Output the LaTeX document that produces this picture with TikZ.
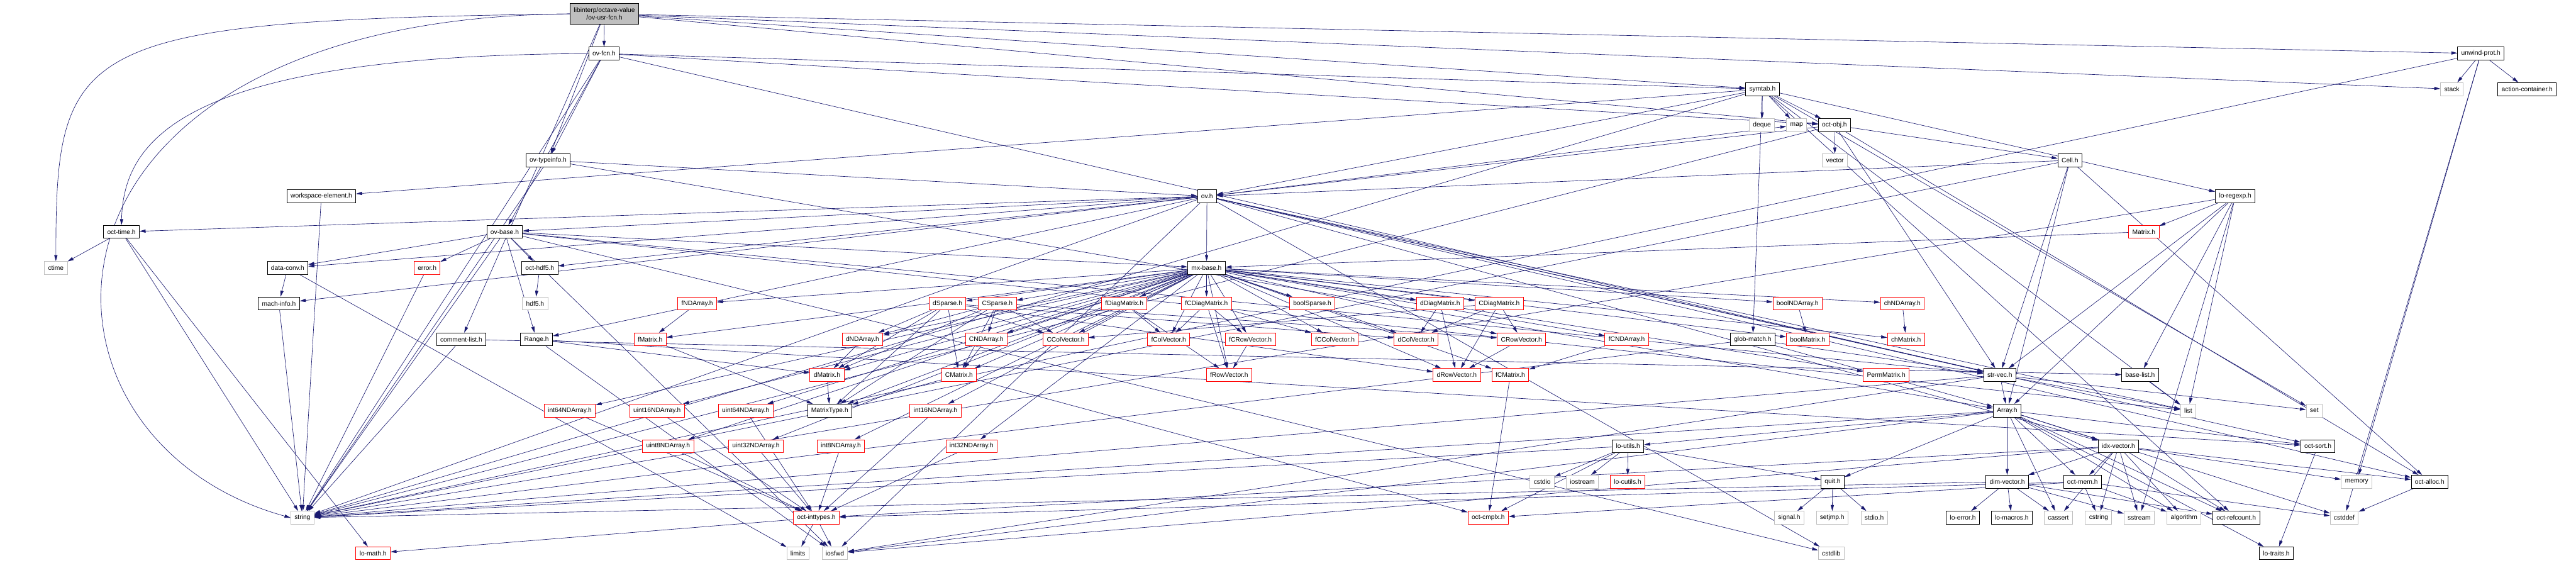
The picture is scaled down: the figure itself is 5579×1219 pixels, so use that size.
\documentclass[tikz,border=0pt]{standalone}
\usepackage{fontspec}
\setmainfont{Liberation Sans}
\usetikzlibrary{arrows.meta,backgrounds}
\definecolor{edgeblue}{HTML}{191970}
\definecolor{sysgray}{HTML}{BFBFBF}
\definecolor{rootgray}{HTML}{BFBFBF}
\definecolor{trunc}{HTML}{FF0000}
\newcommand{\nodefont}{\fontsize{14}{16}\selectfont}
\newcommand{\deps}[2]{\foreach \tg in {#2} {\draw[dep] (#1) -- (\tg);}}
\tikzset{
  nd/.style={rectangle, draw=black, fill=white, line width=1.2pt, minimum height=28pt, inner xsep=8pt, inner ysep=0pt, font=\nodefont, text=black},
  rednd/.style={nd, draw=trunc},
  sysnd/.style={nd, draw=sysgray},
  rootnd/.style={nd, fill=rootgray, align=center, minimum height=45pt, minimum width=144pt},
  dep/.style={draw=edgeblue, line width=0.9pt, -{Triangle[length=13pt,width=7pt]}},
}
\begin{document}
\begin{tikzpicture}[x=1pt,y=-1pt]
\useasboundingbox (0,0) rectangle (5579,1219);
% ---------------- nodes ----------------
\node[rootnd] (root) at (1309,30) {libinterp/octave-value\\/ov-usr-fcn.h};
\node[nd] (ovfcn) at (1308,116) {ov-fcn.h};
\node[nd] (symtab) at (3817,193) {symtab.h};
\node[nd] (unwind) at (5373,116) {unwind-prot.h};
\node[sysnd] (stack) at (5310,193) {stack};
\node[nd] (action) at (5473,193) {action-container.h};
\node[sysnd] (deque) at (3816,271) {deque};
\node[sysnd] (map) at (3891,271) {map};
\node[nd] (octobj) at (3973,271) {oct-obj.h};
\node[sysnd] (vector) at (3974,347) {vector};
\node[nd] (ovtypeinfo) at (1187,347) {ov-typeinfo.h};
\node[nd] (cell) at (4483,347) {Cell.h};
\node[nd] (workspace) at (696,425) {workspace-element.h};
\node[nd] (ov) at (2614,425) {ov.h};
\node[nd] (loregexp) at (4841,425) {lo-regexp.h};
\node[nd] (octtime) at (263,502) {oct-time.h};
\node[nd] (ovbase) at (1093,502) {ov-base.h};
\node[rednd] (matrixh) at (4643,502) {Matrix.h};
\node[sysnd] (ctime) at (121,580) {ctime};
\node[nd] (dataconv) at (623,580) {data-conv.h};
\node[rednd] (error) at (925,580) {error.h};
\node[nd] (octhdf5) at (1169,580) {oct-hdf5.h};
\node[nd] (mxbase) at (2613,580) {mx-base.h};
\node[nd] (machinfo) at (604,657) {mach-info.h};
\node[sysnd] (hdf5) at (1159,657) {hdf5.h};
\node[rednd] (fNDArray) at (1510,657) {fNDArray.h};
\node[rednd] (dSparse) at (2052,657) {dSparse.h};
\node[rednd] (CSparse) at (2160,657) {CSparse.h};
\node[rednd] (fDiagMatrix) at (2435,657) {fDiagMatrix.h};
\node[rednd] (fCDiagMatrix) at (2613,657) {fCDiagMatrix.h};
\node[rednd] (boolSparse) at (2842,657) {boolSparse.h};
\node[rednd] (dDiagMatrix) at (3119,657) {dDiagMatrix.h};
\node[rednd] (CDiagMatrix) at (3247,657) {CDiagMatrix.h};
\node[rednd] (boolNDArray) at (3893,657) {boolNDArray.h};
\node[rednd] (chNDArray) at (4120,657) {chNDArray.h};
\node[nd] (commentlist) at (999,735) {comment-list.h};
\node[nd] (range) at (1162,735) {Range.h};
\node[rednd] (fMatrix) at (1408,735) {fMatrix.h};
\node[rednd] (dNDArray) at (1868,735) {dNDArray.h};
\node[rednd] (CNDArray) at (2136,735) {CNDArray.h};
\node[rednd] (CColVector) at (2308,735) {CColVector.h};
\node[rednd] (fColVector) at (2531,735) {fColVector.h};
\node[rednd] (fCRowVector) at (2708,735) {fCRowVector.h};
\node[rednd] (fCColVector) at (2891,735) {fCColVector.h};
\node[rednd] (dColVector) at (3067,735) {dColVector.h};
\node[rednd] (CRowVector) at (3295,735) {CRowVector.h};
\node[rednd] (fCNDArray) at (3523,735) {fCNDArray.h};
\node[nd] (globmatch) at (3796,735) {glob-match.h};
\node[rednd] (boolMatrix) at (3915,735) {boolMatrix.h};
\node[rednd] (chMatrix) at (4128,735) {chMatrix.h};
\node[rednd] (dMatrix) at (1791,812) {dMatrix.h};
\node[rednd] (CMatrix) at (2077,812) {CMatrix.h};
\node[rednd] (fRowVector) at (2662,812) {fRowVector.h};
\node[rednd] (dRowVector) at (3155,812) {dRowVector.h};
\node[rednd] (fCMatrix) at (3271,812) {fCMatrix.h};
\node[rednd] (PermMatrix) at (4085,812) {PermMatrix.h};
\node[nd] (strvec) at (4331,812) {str-vec.h};
\node[nd] (baselist) at (4635,812) {base-list.h};
\node[rednd] (int64) at (1234,889) {int64NDArray.h};
\node[rednd] (uint16) at (1423,889) {uint16NDArray.h};
\node[rednd] (uint64) at (1615,889) {uint64NDArray.h};
\node[nd] (matrixtype) at (1797,889) {MatrixType.h};
\node[rednd] (int16) at (2026,889) {int16NDArray.h};
\node[nd] (array) at (4347,889) {Array.h};
\node[sysnd] (list) at (4739,889) {list};
\node[sysnd] (set) at (5012,889) {set};
\node[rednd] (uint8) at (1447,966) {uint8NDArray.h};
\node[rednd] (uint32) at (1637,966) {uint32NDArray.h};
\node[rednd] (int8) at (1821,966) {int8NDArray.h};
\node[rednd] (int32) at (2104,966) {int32NDArray.h};
\node[nd] (loutils) at (3526,966) {lo-utils.h};
\node[nd] (idxvector) at (4588,966) {idx-vector.h};
\node[nd] (octsort) at (5020,966) {oct-sort.h};
\node[sysnd] (cstdio) at (3340,1043) {cstdio};
\node[sysnd] (iostream) at (3427,1043) {iostream};
\node[rednd] (locutils) at (3525,1043) {lo-cutils.h};
\node[nd] (quit) at (3969,1043) {quit.h};
\node[nd] (dimvector) at (4347,1043) {dim-vector.h};
\node[nd] (octmem) at (4510,1043) {oct-mem.h};
\node[sysnd] (memory) at (5104,1043) {memory};
\node[nd] (octalloc) at (5262,1043) {oct-alloc.h};
\node[sysnd] (string) at (655,1121) {string};
\node[rednd] (octinttypes) at (1768,1121) {oct-inttypes.h};
\node[rednd] (octcmplx) at (3223,1121) {oct-cmplx.h};
\node[sysnd] (signal) at (3875,1121) {signal.h};
\node[sysnd] (setjmp) at (3968,1121) {setjmp.h};
\node[sysnd] (stdio) at (4059,1121) {stdio.h};
\node[nd] (loerror) at (4251,1121) {lo-error.h};
\node[nd] (lomacros) at (4357,1121) {lo-macros.h};
\node[sysnd] (cassert) at (4458,1121) {cassert};
\node[sysnd] (cstring) at (4545,1121) {cstring};
\node[sysnd] (sstream) at (4633,1121) {sstream};
\node[sysnd] (algorithm) at (4730,1121) {algorithm};
\node[nd] (octrefcount) at (4843,1121) {oct-refcount.h};
\node[sysnd] (cstddef) at (5077,1121) {cstddef};
\node[rednd] (lomath) at (808,1198) {lo-math.h};
\node[sysnd] (limits) at (1728,1198) {limits};
\node[sysnd] (iosfwd) at (1808,1198) {iosfwd};
\node[sysnd] (cstdlib) at (3966,1198) {cstdlib};
\node[nd] (lotraits) at (4930,1198) {lo-traits.h};
% ---------------- edges ----------------
\begin{pgfonlayer}{background}
\fill[white] (0,0) rectangle (5579,1219);
\draw[dep] (root.west) .. controls (160,45) and (121,90) .. (ctime.north);
\draw[dep] (root.west) .. controls (10,40) and (9,950) .. (string.west);
\deps{root}{stack,commentlist,octobj,ovfcn,ovtypeinfo,symtab,unwind}
\draw[dep] (ovfcn.west) .. controls (400,120) and (268,300) .. (octtime.north);
\deps{ovfcn}{string,strvec,octobj,ovbase,ovtypeinfo,symtab}
\deps{ovtypeinfo}{string,array,ov}
\deps{symtab}{deque,list,map,set,string,globmatch,loregexp,octobj,workspace,octrefcount,ov}
\deps{workspace}{string}
\deps{octobj}{string,vector,octalloc,strvec,cell,ov}
\deps{unwind}{cstddef,string,stack,memory,action}
\deps{cell}{string,array,octalloc,strvec,ov}
\deps{ov}{cstdlib,iosfwd,string,list,map,range,dataconv,idxvector,machinfo,mxbase,octalloc,octtime,strvec,octhdf5,octsort,ovbase}
\deps{ovbase}{cstdlib,iosfwd,list,string,range,dataconv,mxbase,strvec,error,octhdf5}
\deps{octtime}{ctime,string,lomath}
\deps{dataconv}{limits,machinfo}
\deps{machinfo}{string}
\deps{error}{string}
\deps{octhdf5}{hdf5}
\deps{commentlist}{string,baselist}
\deps{range}{iosfwd,dMatrix,octsort}
\deps{loregexp}{list,sstream,string,array,matrixh,baselist,strvec}
\deps{matrixh}{mxbase}
\deps{strvec}{iosfwd,list,string,array,set}
\deps{baselist}{list}
\deps{globmatch}{string,array,strvec}
\deps{array}{cassert,cstddef,algorithm,iosfwd,string,dimvector,idxvector,lotraits,loutils,octsort,quit,octmem,octrefcount}
\deps{idxvector}{cassert,cstring,algorithm,iosfwd,memory,dimvector,octinttypes,octalloc,octmem,octrefcount,sstream}
\deps{dimvector}{cassert,sstream,string,loerror,lomacros,octrefcount}
\deps{octmem}{cstddef,cstring,algorithm,octcmplx,octinttypes}
\deps{octsort}{lotraits}
\deps{octalloc}{cstddef}
\deps{loutils}{cstdio,iostream,string,locutils,octcmplx,quit}
\deps{quit}{signal,setjmp,stdio}
\deps{octinttypes}{limits,iosfwd,lomath}
\deps{mxbase}{matrixtype,boolMatrix,chMatrix,dMatrix,CMatrix,fMatrix,fCMatrix,dColVector,CColVector,fColVector,fCColVector,dRowVector,CRowVector,fRowVector,fCRowVector,dDiagMatrix,CDiagMatrix,fDiagMatrix,fCDiagMatrix,PermMatrix,boolSparse,dSparse,CSparse,boolNDArray,chNDArray,dNDArray,CNDArray,fNDArray,fCNDArray,int8,int16,int32,int64,uint8,uint16,uint32,uint64}
\deps{fNDArray}{fMatrix}
\deps{dSparse}{dMatrix,dNDArray,CColVector,CMatrix,dColVector,dRowVector,matrixtype}
\deps{CSparse}{dMatrix,dNDArray,CNDArray,CColVector,CMatrix,matrixtype,CRowVector}
\deps{fDiagMatrix}{fColVector,fRowVector}
\deps{fCDiagMatrix}{fColVector,fCRowVector,fRowVector,fCColVector}
\deps{CNDArray}{CMatrix}
\deps{dNDArray}{dMatrix}
\deps{fCRowVector}{fRowVector}
\deps{dDiagMatrix}{dColVector,dRowVector}
\deps{CDiagMatrix}{dColVector,CRowVector,dRowVector,CColVector}
\deps{CRowVector}{dRowVector}
\deps{fCNDArray}{fCMatrix}
\deps{boolNDArray}{boolMatrix}
\deps{chNDArray}{chMatrix}
\deps{fCMatrix}{octcmplx}
\deps{CMatrix}{matrixtype,octcmplx}
\deps{dMatrix}{matrixtype}
\deps{fMatrix}{matrixtype}
\deps{int8}{octinttypes}
\deps{int16}{octinttypes}
\deps{int32}{octinttypes}
\deps{int64}{octinttypes}
\deps{uint8}{octinttypes}
\deps{uint16}{octinttypes}
\deps{uint32}{octinttypes}
\deps{uint64}{octinttypes}
\end{pgfonlayer}
\end{tikzpicture}
\end{document}
